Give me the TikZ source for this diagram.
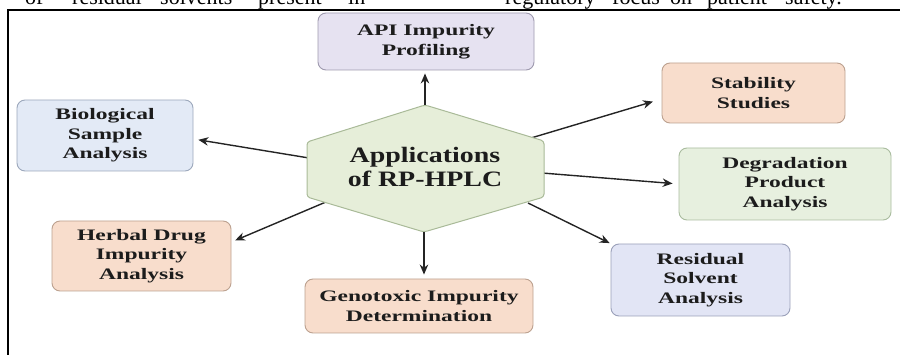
\documentclass[tikz,border=0pt]{standalone}
\usepackage{fontspec}
\setmainfont{Liberation Serif}
\newfontfamily\boxfont[FakeStretch=1.47]{Liberation Serif}
\newfontfamily\hexfont[FakeStretch=1.27]{Liberation Serif}
\usetikzlibrary{arrows.meta}
\definecolor{txt}{HTML}{1C1C1C}
\definecolor{arrc}{HTML}{242424}
\definecolor{lavF}{HTML}{E6E2F1}
\definecolor{lavD}{HTML}{9E99AE}
\definecolor{bluF}{HTML}{E3EAF6}
\definecolor{bluD}{HTML}{9CA8BC}
\definecolor{pchF}{HTML}{F8DDCC}
\definecolor{pchD}{HTML}{BCA18F}
\definecolor{grnF}{HTML}{E7F0DF}
\definecolor{grnD}{HTML}{A9BC9E}
\definecolor{resF}{HTML}{E2E5F5}
\definecolor{resD}{HTML}{9AA0B9}
\definecolor{hexF}{HTML}{E6EED9}
\definecolor{hexD}{HTML}{A9BA98}
\tikzset{
  appbox/.style={rounded corners=8pt, line width=0.9pt, align=center, text=txt,
    inner sep=0pt, font=\boxfont\bfseries\fontsize{16}{19.5}\selectfont},
  lavbox/.style={appbox, fill=lavF, draw=lavD},
  blubox/.style={appbox, fill=bluF, draw=bluD},
  pchbox/.style={appbox, fill=pchF, draw=pchD},
  grnbox/.style={appbox, fill=grnF, draw=grnD},
  resbox/.style={appbox, fill=resF, draw=resD},
  arr/.style={draw=arrc, line width=1.4pt, -{Stealth[length=10pt,width=8.5pt]}},
  topword/.style={anchor=base west, inner sep=0pt, text=black, font=\fontsize{22}{22}\selectfont}
}
\begin{document}
\begin{tikzpicture}[x=1pt,y=-1pt]
\useasboundingbox (0,0) rectangle (900,355);
\clip (0,0) rectangle (900,355);

% cropped text line at the top (cut by the image edge, as in the reference)
\node[topword] (w1) at (25,4.5) {of};
\node[topword] (w2) at (72,4.5) {residual};
\node[topword] (w3) at (160,4.5) {solvents};
\node[topword] (w4) at (258,4.5) {present};
\node[topword] (w5) at (348,4.5) {in};
\node[topword] (w6) at (505,4.5) {regulatory};
\node[topword] (w7) at (612,4.5) {focus};
\node[topword] (w8) at (670,4.5) {on};
\node[topword] (w9) at (707,4.5) {patient};
\node[topword] (w10) at (785,4.5) {safety.};

% frame
\draw[line width=2pt] (8,356) -- (8,10) -- (901,10);

% boxes
\node[lavbox, minimum width=216pt, minimum height=57pt] (api) at (426,41.5) {API Impurity\\Profiling};
\node[blubox, minimum width=176pt, minimum height=71pt] (bio) at (105,135.5) {Biological\\Sample\\Analysis};
\node[pchbox, minimum width=179pt, minimum height=70pt] (herb) at (141.5,256) {Herbal Drug\\Impurity\\Analysis};
\node[pchbox, minimum width=228pt, minimum height=54pt] (geno) at (419,306) {Genotoxic Impurity\\Determination};
\node[pchbox, minimum width=183pt, minimum height=60pt] (stab) at (753.5,93) {Stability\\Studies};
\node[grnbox, minimum width=212pt, minimum height=72pt] (deg) at (785,184) {Degradation\\Product\\Analysis};
\node[resbox, minimum width=179pt, minimum height=72pt] (res) at (700.5,280) {Residual\\Solvent\\Analysis};

% hexagon corners and connector start points
\coordinate (hT) at (425,105);
\coordinate (hUR) at (544,141);
\coordinate (hLR) at (544,197);
\coordinate (hB) at (424,232);
\coordinate (hLL) at (307,197);
\coordinate (hUL) at (307,142);
\coordinate (sBio) at (309,158);
\coordinate (sHerb) at (333,199);
\coordinate (sStab) at (531,138);
\coordinate (sDeg) at (542,173);
\coordinate (sRes) at (528,203);

% connectors
\draw[arr, shorten >=3pt] (hT) -- (hT |- api.south);
\draw[arr, shorten >=5pt] (sBio) -- ([yshift=-3.5pt]bio.east);
\draw[arr, shorten >=4pt] (sHerb) -- ([yshift=14pt]herb.east);
\draw[arr, shorten >=4pt] (hB) -- (hB |- geno.north);
\draw[arr, shorten >=9pt] (sStab) -- ([yshift=-6pt]stab.west);
\draw[arr, shorten >=6pt] (sDeg) -- (deg.west);
\draw[arr, shorten >=1pt] (sRes) -- (res.north west);

% central hexagon
\draw[fill=hexF, draw=hexD, line width=1pt, rounded corners=3pt]
  (hT) -- (hUR) -- (hLR) -- (hB) -- (hLL) -- (hUL) -- cycle;
\node[align=center, text=txt, inner sep=0pt,
  font=\hexfont\bfseries\fontsize{22}{23.5}\selectfont] (hex) at (425,167) {Applications\\of RP-HPLC};
\end{tikzpicture}
\end{document}
